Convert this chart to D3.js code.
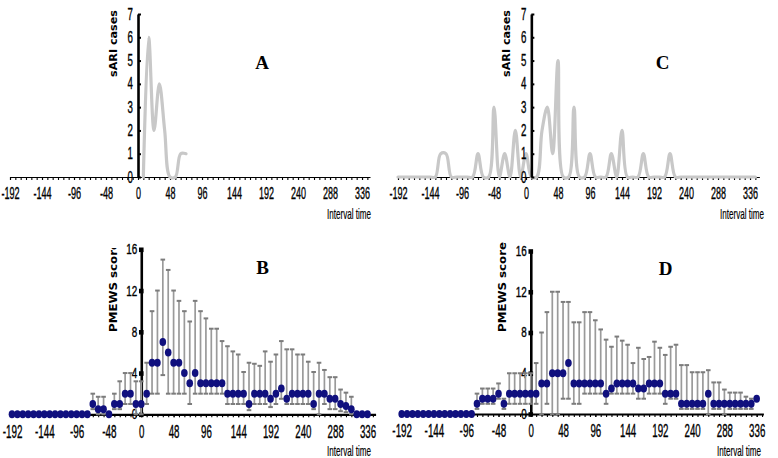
<!DOCTYPE html>
<html><head><meta charset="utf-8">
<script src="https://cdn.jsdelivr.net/npm/d3@7/dist/d3.min.js"></script>
<style>body{margin:0;background:#fff}svg{display:block}</style>
</head><body>
<svg id="chart" width="778" height="458"></svg>
<script>
// ---------------- DATA ----------------
const tickHours = [-192,-144,-96,-48,0,48,96,144,192,240,288,336];
const ticksCases = [0,1,2,3,4,5,6,7];
const ticksScore = [0,4,8,12,16];

// Panel A : sARI cases
const hoursA = [8,16,24,32,40,48,56,64,72];
const casesA = [0,6,2,4,2,0,0,1,1];

// Panel C : sARI cases
const hoursC = [-192,-184,-176,-168,-160,-152,-144,-136,-128,-120,-112,-104,-96,-88,-80,-72,-64,-56,-48,-40,-32,-24,-16,-8,0,8,16,24,32,40,48,56,64,72,80,88,96,104,112,120,128,136,144,152,160,168,176,184,192,200,208,216,224,232,240,248,256,264,272,280,288,296,304,312,320,328,336,344];
const casesC = [0,0,0,0,0,0,0,0,1,1,0,0,0,0,0,1,0,0,3,0,1,0,2,0,1,0,0,2,3,1,5,0,0,3,0,0,1,0,0,0,1,0,2,0,0,0,1,0,0,0,0,1,0,0,0,0,0,0,0,0,0,0,0,0,0,0,0,0];

// Panels B and D : PMEWS score (median, lower, upper)
const hoursBD = [-192,-184,-176,-168,-160,-152,-144,-136,-128,-120,-112,-104,-96,-88,-80,-72,-64,-56,-48,-40,-32,-24,-16,-8,0,8,16,24,32,40,48,56,64,72,80,88,96,104,112,120,128,136,144,152,160,168,176,184,192,200,208,216,224,232,240,248,256,264,272,280,288,296,304,312,320,328,336];

const medB = [0,0,0,0,0,0,0,0,0,0,0,0,0,0,0, 1,0.5,0.5,0,1,1,2,2,1,1,2, 5,5,7,6,5,5,4,3,4,3,3,3,3,3, 2,2,2,2,1,2,2,2,1.5,2,2.5,1.5,2,2,2,2,1,2,2,1.5,1.5,1,0.8,0.5,0,0,0];
const lowB = [0,0,0,0,0,0,0,0,0,0,0,0,0,0,0, 0.5,0,0,0,0.5,0.5,1,1,0,0,1, 2,2,3.8,2,2,2,2,1,2,2,2,2,2,2, 1,1,1,1,0.4,1,1,1,0.7,1,1.5,1,1,1,1,1,0.5,0,1,0.5,0.5,0.3,0.2,0,0,0,0];
const highB = [0,0,0,0,0,0,0,0,0,0,0,0,0,0,0, 2,1.7,1.7,0,2,3.2,4,4,3.2,3.2,5, 10,12,15,14,12,11,10,9,11,10,9.3,8.3,8.3,7.1, 6.6,6.1,5.8,4.1,5,4.9,4.7,6.1,5.1,5.8,7.1,6.3,6.3,5.8,5.8,5.1,4.1,5,4.3,3.6,3.6,2.4,2.1,1.7,0,0,0];

const medD = [0,0,0,0,0,0,0,0,0,0,0,0,0,0, 1,1.5,1.5,1.5,2,1,2,2,2,2,2,2, 3,3,4,4,4,5,3,3,3,3,3,3,2,2.5, 3,3,3,3,2.5,2.5,3,3,3,2,2,2,1,1,1,1,1,2,1,1,1,1,1,1,1,1,1.5];
const lowD = [0,0,0,0,0,0,0,0,0,0,0,0,0,0, 0.5,1,1,1,1.5,0.5,1,1,1,1,1,1, 0,1,0,0,1.5,1.5,1,1,2,2,2,2,1,2, 2,2,2,2,1.5,1.5,2,2,2,1,1.5,1.5,0.5,0.5,0.5,0.5,0.5,0,0.5,0.5,0,0.5,0.5,0.5,0.5,0.5,1.5];
const highD = [0,0,0,0,0,0,0,0,0,0,0,0,0,0, 2,2.5,2.5,2.5,3,1.5,4,4,4,4,4,5, 8,10,12,12,11,11,9,9,10,10,9.2,8.3,7.3,6.6, 7.6,7.2,6.8,5,6.5,5.4,5.6,7.1,6.5,5.8,6.6,6.8,4.8,4.8,4.1,4.1,4.1,4.3,3.1,3.1,2.4,2.1,2.1,2.1,1.7,1.5,1.5];

// ---------------- DRAWING ----------------
const svg = d3.select("#chart");
const NUMFONT = "'Liberation Sans Narrow','Liberation Sans',Arial,sans-serif";
const NAVY = "#10107e", BAR = "#9a9a9a", CAP = "#7c7c7c", CURVE = "#c8c8c8";

function widthOf(s, dig, minus){ return s.replace("-","").length*dig + (s.indexOf("-")>=0?minus:0); }

function styleNum(sel, fs, lenFn){
  sel.attr("font-size",fs).attr("font-family",NUMFONT).attr("fill","#000")
    .attr("stroke","#000").attr("stroke-width",0.35)
    .attr("textLength",lenFn).attr("lengthAdjust","spacingAndGlyphs");
}

function xAxis(g, x, y0, o){
  const minor = d3.range(-192, o.end + 0.01, 8);
  g.append("g").attr("transform",`translate(0,${y0})`)
    .call(d3.axisBottom(x).tickValues(minor).tickSizeInner(o.minorLen).tickSizeOuter(0).tickFormat(""))
    .call(s=>s.select(".domain").attr("stroke","#000").attr("stroke-width",o.lineW))
    .call(s=>s.selectAll(".tick line").attr("stroke","#000").attr("stroke-width",1.1));
  const lab = g.append("g").attr("transform",`translate(0,${y0})`)
    .call(d3.axisBottom(x).tickValues(tickHours).tickFormat(d=>String(d)).tickSizeInner(o.minorLen).tickSizeOuter(0).tickPadding(o.pad));
  lab.select(".domain").remove();
  lab.selectAll(".tick line").attr("stroke","#000").attr("stroke-width",1.1);
  styleNum(lab.selectAll("text"), o.fs, d=>widthOf(String(d),o.dig,o.minus));
}

function yAxis(g, y, xPix, ticks, o){
  const ax = g.append("g").attr("transform",`translate(${xPix},0)`)
    .call(d3.axisLeft(y).tickValues(ticks).tickFormat(d=>String(d)).tickSizeInner(o.tick).tickSizeOuter(0).tickPadding(o.pad));
  ax.select(".domain").attr("stroke","#000").attr("stroke-width",o.lineW);
  ax.selectAll(".tick line").attr("stroke","#000").attr("stroke-width",2);
  styleNum(ax.selectAll("text"), o.fs, d=>widthOf(String(d),o.dig,0));
  if(o.squares){
    ax.selectAll(".tick").append("rect").attr("x",-2.3).attr("y",-2.3).attr("width",4.6).attr("height",4.6).attr("fill","#000");
  }
  return ax;
}

function yTitle(g, txt, bx, cy, len, clipTop){
  let holder = g;
  if(clipTop!==undefined){
    const id = "clip"+Math.round(bx);
    svg.append("clipPath").attr("id",id).append("rect").attr("x",bx-20).attr("y",clipTop).attr("width",40).attr("height",200);
    holder = g.append("g").attr("clip-path",`url(#${id})`);
  }
  holder.append("text").attr("transform",`translate(${bx},${cy}) rotate(-90)`)
    .attr("text-anchor","middle").attr("font-family","'DejaVu Sans',Verdana,sans-serif")
    .attr("font-weight","bold").attr("font-size",10.5).attr("fill","#000")
    .attr("textLength",len).attr("lengthAdjust","spacingAndGlyphs").text(txt);
}

function letter(g, s, cx, by){
  g.append("text").attr("x",cx).attr("y",by).attr("text-anchor","middle")
    .attr("font-family","'Liberation Serif','Times New Roman',serif").attr("font-weight","bold")
    .attr("font-size",19).attr("fill","#000").text(s);
}

function intervalLabel(g, right, by){
  const holder = g.append("g");
  const t = holder.append("text").attr("x",0).attr("y",0).attr("text-anchor","end")
    .attr("font-family",NUMFONT).attr("font-size",14).attr("fill","#000")
    .attr("stroke","#000").attr("stroke-width",0.2).text("Interval time");
  const natural = t.node().getComputedTextLength() || 44;
  holder.attr("transform",`translate(${right},${by}) scale(${44/natural},1)`);
}

// ----- Cases panels (A, C)
function casesPanel(o){
  const g = svg.append("g");
  const x = d3.scaleLinear().domain([-192,o.end]).range([o.x0, o.x0 + (o.end+192)*o.k]);
  const y = d3.scaleLinear().domain([0,7]).range([177,14]);
  xAxis(g, x, y(0), {end:o.end, minorLen:3, lineW:1.2, pad:7, fs:17, dig:5, minus:3.2});
  const line = d3.line().x(d=>x(d[0])).y(d=>y(d[1])).curve(d3.curveCatmullRom.alpha(0.5));
  g.append("path").datum(d3.zip(o.hours,o.values)).attr("d",line)
    .attr("fill","none").attr("stroke",CURVE).attr("stroke-width",3.2).attr("stroke-linejoin","round").attr("stroke-linecap","round");
  yAxis(g, y, x(o.yAt), ticksCases, {tick:-3, pad:5, lineW:2.6, fs:16, dig:5.4});
  yTitle(g, "sARI cases", o.titleX, 43.5, 67);
  letter(g, o.letter, o.lx, 69);
  intervalLabel(g, o.ilx, 219);
}

// ----- Score panels (B, D)
function scorePanel(o){
  const g = svg.append("g");
  const x = d3.scaleLinear().domain([-192,o.end]).range([o.x0, o.x0 + (o.end+192)*o.k]);
  const y = d3.scaleLinear().domain([0,16]).range([o.y0,o.y16]);
  xAxis(g, x, y(0), {end:o.end, minorLen:3, lineW:2.2, pad:8, fs:17.5, dig:5.4, minus:3.5});
  yAxis(g, y, x(0), ticksScore, {tick:0, pad:4, lineW:2.6, fs:14, dig:5.5, squares:true});
  const data = o.hours.map((h,i)=>({h, m:o.med[i], lo:o.low[i], hi:o.high[i]}));
  const bars = g.append("g");
  data.filter(d=>d.hi>d.lo).forEach(d=>{
    bars.append("line").attr("x1",x(d.h)).attr("x2",x(d.h)).attr("y1",y(d.lo)).attr("y2",y(d.hi))
      .attr("stroke",BAR).attr("stroke-width",1.7);
    if(d.hi>d.m+0.05) bars.append("line").attr("x1",x(d.h)-2.3).attr("x2",x(d.h)+2.3).attr("y1",y(d.hi)).attr("y2",y(d.hi))
      .attr("stroke",CAP).attr("stroke-width",2);
    if(d.lo<d.m-0.05) bars.append("line").attr("x1",x(d.h)-2.3).attr("x2",x(d.h)+2.3).attr("y1",y(d.lo)).attr("y2",y(d.lo))
      .attr("stroke",CAP).attr("stroke-width",2);
  });
  g.append("g").selectAll("ellipse").data(data).join("ellipse")
    .attr("cx",d=>x(d.h)).attr("cy",d=>y(d.m)).attr("rx",3.3).attr("ry",4).attr("fill",NAVY);
  yTitle(g, "PMEWS score", o.titleX, 287, 90, o.clipTop);
  letter(g, o.letter, o.lx, o.ly);
  intervalLabel(g, o.ilx, 456);
}

casesPanel({hours:hoursA, values:casesA, x0:10, k:0.6667, end:348, yAt:0, titleX:116.5, letter:"A", lx:262, ilx:371});
casesPanel({hours:hoursC, values:casesC, x0:398, k:0.6667, end:350, yAt:8, titleX:510, letter:"C", lx:662.5, ilx:764});
scorePanel({hours:hoursBD, med:medB, low:lowB, high:highB, x0:12, k:0.6733, end:348, y0:414.3, y16:249.3,
  titleX:116.5, clipTop:248, letter:"B", lx:262.5, ly:274, ilx:371});
scorePanel({hours:hoursBD, med:medD, low:lowD, high:highD, x0:401.7, k:0.6723, end:346, y0:414, y16:251,
  titleX:505.5, letter:"D", lx:665.5, ly:275, ilx:761});
</script>
</body></html>
